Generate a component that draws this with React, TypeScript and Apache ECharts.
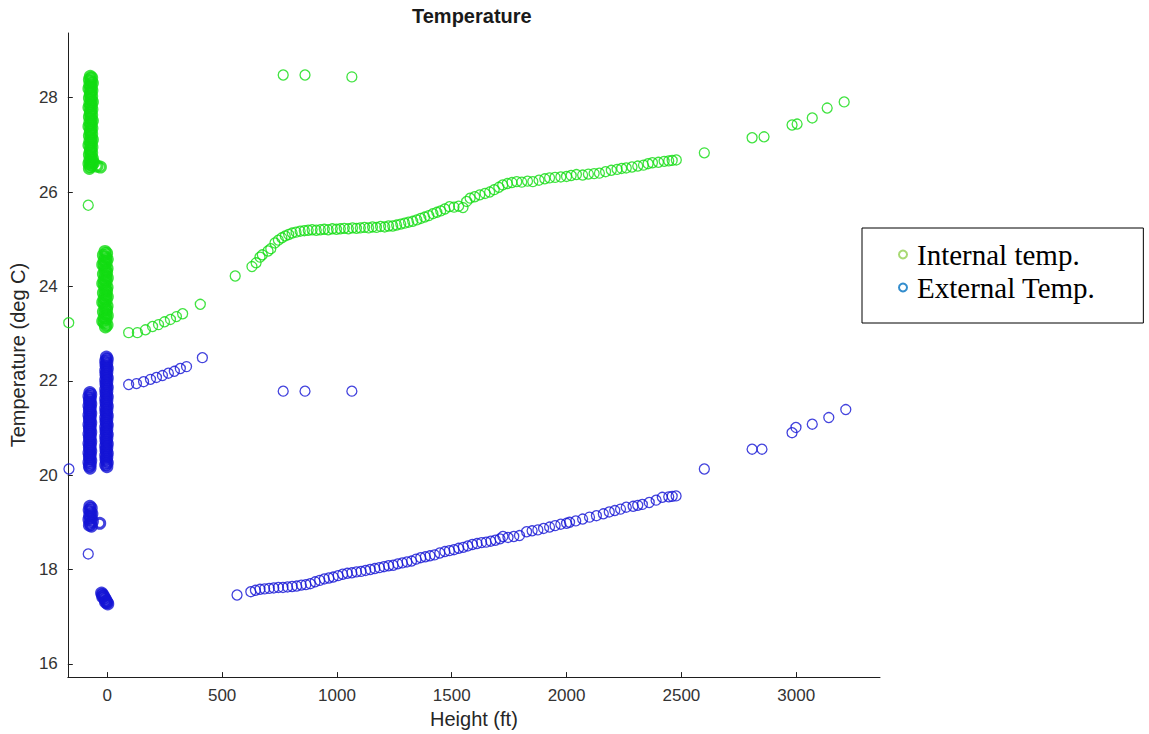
import React, { useEffect, useRef } from "react";
import * as echarts from "echarts";

// ---------- data (Height ft, Temperature deg C) ----------
const xTicks = [0, 500, 1000, 1500, 2000, 2500, 3000];
const yTicks = [16, 18, 20, 22, 24, 26, 28];

const internalGround1: number[][] = [
  [-74,28.45],[-68,28.42],[-78,28.38],[-71,28.34],[-65,28.31],[-76,28.27],[-70,28.22],[-80,28.19],[-67,28.15],[-73,28.11],
  [-74,28.07],[-68,28.03],[-78,27.99],[-71,27.95],[-65,27.91],[-76,27.87],[-70,27.83],[-80,27.79],[-67,27.75],[-73,27.71],
  [-74,27.67],[-68,27.63],[-78,27.59],[-71,27.55],[-65,27.51],[-76,27.47],[-70,27.43],[-80,27.39],[-67,27.35],[-73,27.31],
  [-74,27.27],[-68,27.23],[-78,27.19],[-71,27.15],[-65,27.11],[-76,27.07],[-70,27.03],[-80,26.99],[-67,26.95],[-73,26.91],
  [-74,26.87],[-68,26.83],[-78,26.79],[-71,26.75],[-65,26.71],[-76,26.67],[-70,26.63],[-80,26.6],[-67,26.57],[-73,26.54],
  [-78,26.5],[-60,26.62],[-45,26.55],[-30,26.53],
];
const internalGround2: number[][] = [
  [-10,24.74],[-3,24.7],[-17,24.66],[-7,24.62],[0,24.58],[-14,24.54],[-5,24.5],[-20,24.46],[-12,24.42],[-1,24.38],
  [-10,24.34],[-3,24.3],[-17,24.26],[-7,24.22],[0,24.18],[-14,24.14],[-5,24.1],[-20,24.06],[-12,24.02],[-1,23.98],
  [-10,23.94],[-3,23.9],[-17,23.86],[-7,23.82],[0,23.78],[-14,23.74],[-5,23.7],[-20,23.66],[-12,23.62],[-1,23.58],
  [-10,23.54],[-3,23.5],[-17,23.46],[-7,23.42],[0,23.38],[-14,23.34],[-5,23.3],[-20,23.26],[-12,23.22],[-1,23.18],[-8,23.14],
];
const internalSingles: number[][] = [
  [-168,23.23],[-83,25.72],[766,28.48],[861,28.48],[1065,28.44],
];
const internalLow: number[][] = [
  [93,23.02],[131,23.02],[166,23.08],[197,23.15],[223,23.19],[249,23.25],[275,23.3],[301,23.36],[328,23.42],[405,23.62],
];
const internalClimb: number[][] = [
  [557,24.22],[630,24.42],[648,24.5],[665,24.62],[675,24.67],[700,24.75],[712,24.8],[730,24.92],[745,24.98],[760,25.03],
  [775,25.07],[790,25.1],[805,25.13],[822,25.15],[840,25.17],[858,25.18],[875,25.19],[892,25.2],[910,25.19],[928,25.2],
  [945,25.21],[962,25.2],[980,25.22],[998,25.21],[1015,25.22],[1032,25.23],[1050,25.22],[1068,25.24],[1085,25.23],[1102,25.24],
  [1120,25.25],[1138,25.24],[1155,25.26],[1172,25.25],[1190,25.27],[1208,25.26],[1225,25.28],[1243,25.28],[1260,25.3],[1278,25.32],
  [1295,25.34],[1312,25.36],[1330,25.38],[1348,25.41],[1365,25.44],[1382,25.47],[1400,25.5],[1418,25.54],[1435,25.57],[1452,25.6],
  [1470,25.64],[1490,25.69],[1510,25.68],[1530,25.7],[1549,25.67],[1565,25.8],[1580,25.87],[1600,25.9],[1622,25.94],[1645,25.97],
  [1665,26.0],[1685,26.05],[1705,26.1],[1722,26.15],[1742,26.18],[1762,26.2],[1783,26.22],[1805,26.21],[1830,26.23],[1853,26.22],
  [1880,26.25],[1905,26.28],[1926,26.3],[1950,26.31],[1975,26.32],[2000,26.33],[2020,26.35],[2043,26.37],[2070,26.36],[2095,26.38],
  [2120,26.39],[2143,26.4],[2170,26.43],[2195,26.46],[2220,26.48],[2240,26.5],[2260,26.51],[2285,26.53],[2310,26.55],[2335,26.57],
  [2355,26.6],[2374,26.62],[2400,26.63],[2425,26.65],[2445,26.66],[2460,26.67],[2478,26.68],
  [2600,26.83],[2808,27.15],[2860,27.17],[2982,27.42],[3004,27.44],[3070,27.57],[3135,27.78],[3209,27.91],
];

const externalGround1: number[][] = [
  [-76,21.75],[-72,21.71],[-80,21.67],[-74,21.63],[-78,21.59],[-76,21.55],[-72,21.51],[-80,21.47],[-74,21.43],[-78,21.39],
  [-76,21.35],[-72,21.31],[-80,21.27],[-74,21.23],[-78,21.19],[-76,21.15],[-72,21.11],[-80,21.07],[-74,21.03],[-78,20.99],
  [-76,20.95],[-72,20.91],[-80,20.87],[-74,20.83],[-78,20.79],[-76,20.75],[-72,20.71],[-80,20.67],[-74,20.63],[-78,20.59],
  [-76,20.55],[-72,20.51],[-80,20.47],[-74,20.43],[-78,20.39],[-76,20.35],[-72,20.31],[-80,20.27],[-74,20.23],[-78,20.19],[-75,20.15],
];
const externalGround1b: number[][] = [
  [-76,19.34],[-70,19.3],[-79,19.26],[-73,19.22],[-67,19.18],[-77,19.14],[-71,19.1],[-80,19.06],[-65,19.02],[-74,18.98],
  [-78,18.94],[-69,18.92],[-33,18.98],
];
const externalGround2: number[][] = [
  [-4,22.5],[0,22.46],[-7,22.42],[-2,22.38],[-6,22.34],[-4,22.3],[0,22.26],[-7,22.22],[-2,22.18],[-6,22.14],
  [-4,22.1],[0,22.06],[-7,22.02],[-2,21.98],[-6,21.94],[-4,21.9],[0,21.86],[-7,21.82],[-2,21.78],[-6,21.74],
  [-4,21.7],[0,21.66],[-7,21.62],[-2,21.58],[-6,21.54],[-4,21.5],[0,21.46],[-7,21.42],[-2,21.38],[-6,21.34],
  [-4,21.3],[0,21.26],[-7,21.22],[-2,21.18],[-6,21.14],[-4,21.1],[0,21.06],[-7,21.02],[-2,20.98],[-6,20.94],
  [-4,20.9],[0,20.86],[-7,20.82],[-2,20.78],[-6,20.74],[-4,20.7],[0,20.66],[-7,20.62],[-2,20.58],[-6,20.54],
  [-4,20.5],[0,20.46],[-7,20.42],[-2,20.38],[-6,20.34],[-4,20.3],[0,20.26],[-7,20.22],[-2,20.18],
];
const externalGround3: number[][] = [
  [-25,17.5],[-21,17.47],[-17,17.44],[-13,17.4],[-9,17.37],[-5,17.33],[-1,17.3],[2,17.27],[-20,17.42],[-8,17.31],
];
const externalSingles: number[][] = [
  [-167,20.13],[-83,18.33],[766,21.78],[861,21.78],[1065,21.78],
];
const externalHigh: number[][] = [
  [93,21.92],[127,21.94],[158,21.98],[188,22.03],[214,22.07],[240,22.11],[266,22.16],[292,22.2],[318,22.26],[345,22.3],[414,22.49],
];
const externalClimb: number[][] = [
  [565,17.46],[625,17.53],[645,17.56],[665,17.58],[685,17.59],[705,17.6],[725,17.61],[745,17.62],[765,17.62],[785,17.63],
  [805,17.64],[825,17.65],[845,17.67],[865,17.68],[884,17.7],[905,17.74],[925,17.77],[945,17.8],[965,17.82],[984,17.84],
  [1005,17.87],[1025,17.9],[1045,17.92],[1065,17.93],[1085,17.95],[1105,17.96],[1125,17.98],[1145,18.0],[1165,18.02],[1185,18.04],
  [1205,18.06],[1225,18.08],[1245,18.09],[1265,18.12],[1285,18.14],[1305,18.16],[1325,18.18],[1345,18.22],[1365,18.25],[1385,18.27],
  [1405,18.29],[1425,18.31],[1448,18.35],[1470,18.38],[1490,18.4],[1510,18.42],[1530,18.45],[1550,18.47],[1570,18.5],[1590,18.53],
  [1610,18.55],[1630,18.57],[1650,18.58],[1670,18.6],[1690,18.62],[1710,18.65],[1723,18.7],[1745,18.68],[1770,18.7],[1795,18.72],
  [1826,18.8],[1850,18.82],[1875,18.84],[1900,18.87],[1926,18.9],[1950,18.93],[1975,18.96],[2000,18.98],[2013,19.0],[2040,19.03],
  [2070,19.07],[2100,19.11],[2130,19.14],[2160,19.18],[2186,19.22],[2210,19.25],[2235,19.28],[2260,19.32],[2290,19.34],[2310,19.36],
  [2330,19.38],[2360,19.42],[2390,19.47],[2417,19.53],[2445,19.54],[2460,19.55],[2477,19.56],
  [2600,20.13],[2808,20.55],[2851,20.55],[2982,20.9],[2999,21.01],[3070,21.08],[3142,21.22],[3216,21.39],
];

const GREEN = "#12dc12";
const BLUE = "#1414d4";
const AXIS = "#1e1e1e";
const SANS = "'Liberation Sans', Arial, Helvetica, sans-serif";
const SERIF = "'Liberation Serif', 'Times New Roman', serif";

// densely overlapping ground-level markers merge into solid blobs in the original
const dense = (pts: number[][]) => pts.map((p) => ({ value: p, itemStyle: { borderWidth: 3 } }));

export default function App() {
  const ref = useRef<HTMLDivElement>(null);
  useEffect(() => {
    const chart = echarts.init(ref.current!, null, { renderer: "svg" });
    const internal = [
      ...dense(internalGround1),
      ...dense(internalGround2),
      ...internalSingles,
      ...internalLow,
      ...internalClimb,
    ];
    const external = [
      ...dense(externalGround1),
      ...dense(externalGround1b),
      ...dense(externalGround2),
      ...dense(externalGround3),
      ...externalSingles,
      ...externalHigh,
      ...externalClimb,
    ];
    chart.setOption({
      animation: false,
      backgroundColor: "#ffffff",
      title: {
        text: "Temperature",
        left: 407,
        top: 1,
        textStyle: { fontFamily: SANS, fontSize: 20, fontWeight: "bold", color: "#1a1a1a" },
      },
      legend: {
        orient: "vertical",
        left: 862,
        top: 228,
        padding: [12, 48, 21, 36],
        itemGap: 4,
        itemWidth: 8,
        itemHeight: 8,
        icon: "circle",
        borderColor: "#000",
        borderWidth: 1,
        backgroundColor: "#fff",
        textStyle: { fontFamily: SERIF, fontSize: 29, color: "#000", padding: [0, 0, 0, 5] },
        data: [
          { name: "Internal temp.", itemStyle: { color: "#fff", borderColor: "#92d050", borderWidth: 2 } },
          { name: "External Temp.", itemStyle: { color: "#fff", borderColor: "#0070c0", borderWidth: 2 } },
        ],
      },
      grid: { left: 67, right: 269, top: 33, bottom: 56, containLabel: false },
      xAxis: {
        type: "value",
        min: -172,
        max: 3365,
        splitNumber: 7,
        name: "Height (ft)",
        nameLocation: "middle",
        nameGap: 30,
        nameTextStyle: { fontFamily: SANS, fontSize: 20, color: "#262626" },
        axisLine: { show: true, onZero: false, lineStyle: { color: AXIS, width: 1 } },
        axisTick: { show: true, inside: true, length: 5, customValues: xTicks, lineStyle: { color: AXIS } },
        axisLabel: {
          customValues: xTicks,
          margin: 10,
          fontFamily: SANS,
          fontSize: 17,
          color: "#333",
          formatter: (v: number) => String(v),
        },
        splitLine: { show: false },
      },
      yAxis: {
        type: "value",
        min: 15.72,
        max: 29.37,
        splitNumber: 7,
        name: "Temperature (deg C)",
        nameLocation: "middle",
        nameGap: 34,
        nameTextStyle: { fontFamily: SANS, fontSize: 20, color: "#262626" },
        axisLine: { show: true, onZero: false, lineStyle: { color: AXIS, width: 1 } },
        axisTick: { show: true, inside: true, length: 5, customValues: yTicks, lineStyle: { color: AXIS } },
        axisLabel: {
          customValues: yTicks,
          margin: 10,
          fontFamily: SANS,
          fontSize: 17,
          color: "#333",
          formatter: (v: number) => String(v),
        },
        splitLine: { show: false },
      },
      series: [
        {
          name: "Internal temp.",
          type: "scatter",
          data: internal,
          symbol: "circle",
          symbolSize: 10,
          itemStyle: { color: "rgba(0,0,0,0)", borderColor: GREEN, borderWidth: 1.3 },
          emphasis: { disabled: true },
        },
        {
          name: "External Temp.",
          type: "scatter",
          data: external,
          symbol: "circle",
          symbolSize: 10,
          itemStyle: { color: "rgba(0,0,0,0)", borderColor: BLUE, borderWidth: 1.3 },
          emphasis: { disabled: true },
        },
      ],
    });
    return () => chart.dispose();
  }, []);
  return (
    <div
      ref={ref}
      style={{ position: "fixed", left: 0, top: 0, width: 1149, height: 734, background: "#fff" }}
    />
  );
}
